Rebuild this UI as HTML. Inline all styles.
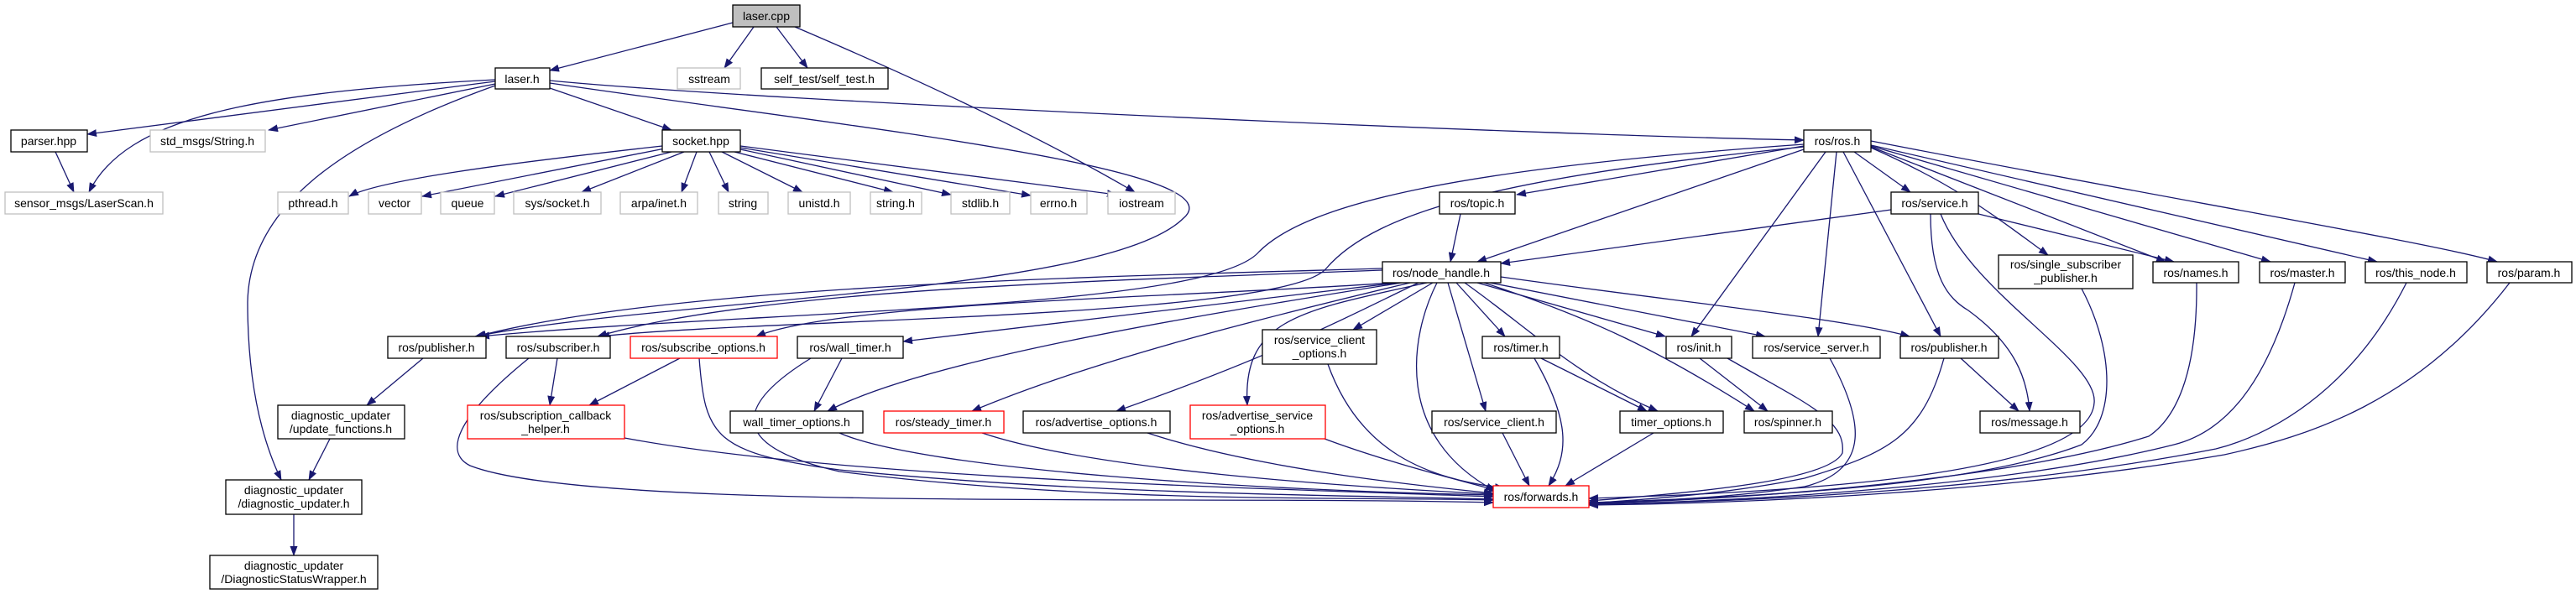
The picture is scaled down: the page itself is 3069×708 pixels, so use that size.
<!DOCTYPE html>
<html><head><meta charset="utf-8"><style>
html,body{margin:0;padding:0;background:#fff;}
svg{display:block}
text{font-family:"Liberation Sans",sans-serif;font-size:14px;fill:#000;text-anchor:middle}
.e{fill:none;stroke:#191970;stroke-width:1.3}
.b{fill:#fff;stroke:#000;stroke-width:1.3}
.g{fill:#fff;stroke:#bfbfbf;stroke-width:1.3}
.r{fill:#fff;stroke:#ff0000;stroke-width:1.3}
</style></head><body>
<svg width="3069" height="708" viewBox="0 0 3069 708" xmlns="http://www.w3.org/2000/svg">
<defs><marker id="a" markerWidth="12" markerHeight="9" refX="11" refY="4.5" orient="auto" markerUnits="userSpaceOnUse"><path d="M0,0 L12,4.5 L0,9 z" fill="#191970"/></marker></defs>
<g class="e" marker-end="url(#a)">
<path d="M873,27 L655,84"/>
<path d="M898,32 L863,81"/>
<path d="M925,32 L962,81"/>
<path d="M947,32 Q1200,140 1352,229"/>
<path d="M590,97 L104,160"/>
<path d="M590,95 C300,110 150,140 106,229"/>
<path d="M590,100 L320,155"/>
<path d="M655,105 L800,155"/>
<path d="M655,96 C900,120 1800,160 2149,167"/>
<path d="M655,99 C1000,150 1480,200 1410,260 C1320,350 800,355 566,401"/>
<path d="M590,102 C400,170 297,250 295,360 C295,450 310,520 335,572"/>
<path d="M66,181 L88,229"/>
<path d="M789,174 C600,195 450,215 416,234"/>
<path d="M792,177 L503,234"/>
<path d="M800,181 L590,234"/>
<path d="M815,181 L693,229"/>
<path d="M830,181 L812,229"/>
<path d="M845,181 L868,229"/>
<path d="M860,181 L956,229"/>
<path d="M875,181 L1064,229"/>
<path d="M882,178 L1133,232"/>
<path d="M882,176 L1228,233"/>
<path d="M882,174 L1330,232"/>
<path d="M2149,174 L1807,232"/>
<path d="M2149,178 L1760,312"/>
<path d="M2209,181 L2276,229"/>
<path d="M2229,176 C2330,220 2380,260 2440,304"/>
<path d="M2229,175 L2580,312"/>
<path d="M2229,174 L2705,312"/>
<path d="M2229,173 L2832,312"/>
<path d="M2229,168 C2600,240 2900,290 2975,312"/>
<path d="M2175,181 L2015,401"/>
<path d="M2188,181 L2166,401"/>
<path d="M2196,181 L2312,401"/>
<path d="M2149,172 C1750,200 1560,240 1500,300 C1440,370 900,370 572,401"/>
<path d="M2149,175 C1800,210 1640,250 1580,320 C1530,380 900,380 715,401"/>
<path d="M1740,255 L1728,312"/>
<path d="M2253,250 L1788,314"/>
<path d="M2357,255 L2590,312"/>
<path d="M2300,255 C2300,330 2320,355 2345,370 C2400,410 2415,450 2418,490"/>
<path d="M2312,255 C2350,350 2500,430 2495,480 C2490,560 2200,585 1893,594"/>
<path d="M1647,320 C1300,330 800,340 568,401"/>
<path d="M1647,322 C1300,335 900,345 712,401"/>
<path d="M1660,337 C1400,355 1000,360 901,401"/>
<path d="M1665,337 L1076,407"/>
<path d="M1670,337 C1400,380 1100,430 986,490"/>
<path d="M1680,337 C1500,380 1300,430 1158,490"/>
<path d="M1690,337 C1620,370 1530,420 1330,490"/>
<path d="M1700,337 C1550,370 1480,380 1486,483"/>
<path d="M1707,337 L1612,393"/>
<path d="M1712,337 C1680,400 1660,520 1781,585"/>
<path d="M1725,337 L1770,490"/>
<path d="M1735,337 L1793,401"/>
<path d="M1745,337 C1820,390 1880,450 1975,490"/>
<path d="M1760,337 L1984,401"/>
<path d="M1768,337 C1900,380 1980,420 2090,490"/>
<path d="M1775,337 L2103,401"/>
<path d="M1788,330 C2000,360 2200,380 2275,401"/>
<path d="M504,427 L437,483"/>
<path d="M393,523 L368,572"/>
<path d="M350,613 L350,662"/>
<path d="M664,427 L655,483"/>
<path d="M810,427 L702,483"/>
<path d="M630,427 C540,500 530,540 560,555 C700,610 1400,590 1779,599"/>
<path d="M833,427 C840,520 850,540 1000,560 C1300,590 1600,590 1779,595"/>
<path d="M966,427 C880,480 860,530 1000,562 C1300,600 1600,592 1779,596"/>
<path d="M1003,427 L970,490"/>
<path d="M744,522 C1000,570 1500,582 1779,592"/>
<path d="M1000,516 C1100,560 1500,585 1779,590"/>
<path d="M1170,516 C1300,560 1600,580 1779,589"/>
<path d="M1367,516 C1500,560 1700,580 1779,588"/>
<path d="M1578,523 C1650,550 1730,570 1785,585"/>
<path d="M1582,434 C1620,540 1700,570 1792,582"/>
<path d="M1790,516 L1822,579"/>
<path d="M1828,427 C1870,500 1870,540 1845,579"/>
<path d="M1836,427 L1962,490"/>
<path d="M1970,516 L1865,579"/>
<path d="M2025,427 L2106,490"/>
<path d="M2058,427 C2150,480 2200,500 2195,540 C2180,570 2050,585 1893,597"/>
<path d="M2180,427 C2220,500 2230,560 2150,580 C2050,595 1950,598 1893,599"/>
<path d="M2316,427 C2290,520 2250,540 2150,570 C2050,590 1960,595 1893,600"/>
<path d="M2336,427 L2405,490"/>
<path d="M2480,344 C2520,420 2520,500 2480,530 C2350,580 2100,592 1893,599"/>
<path d="M2617,337 C2618,450 2590,500 2560,520 C2400,570 2100,595 1893,600"/>
<path d="M2734,337 C2700,460 2650,515 2590,530 C2400,578 2100,597 1893,601"/>
<path d="M2867,337 C2800,470 2700,520 2640,535 C2400,582 2100,598 1893,601"/>
<path d="M2990,337 C2880,480 2750,520 2650,542 C2400,585 2100,600 1893,602"/>
</g>
<rect x="873" y="6" width="80" height="26" fill="#bfbfbf" stroke="#000" stroke-width="1.3"/><text x="913" y="24">laser.cpp</text>
<rect class="b" x="590" y="81" width="65" height="25"/><text x="622" y="99">laser.h</text>
<rect class="g" x="807" y="81" width="75" height="25"/><text x="845" y="99">sstream</text>
<rect class="b" x="907" y="81" width="151" height="25"/><text x="982" y="99">self_test/self_test.h</text>
<rect class="b" x="13" y="155" width="91" height="26"/><text x="58" y="173">parser.hpp</text>
<rect class="g" x="179" y="155" width="137" height="26"/><text x="247" y="173">std_msgs/String.h</text>
<rect class="b" x="789" y="155" width="93" height="26"/><text x="835" y="173">socket.hpp</text>
<rect class="b" x="2149" y="155" width="80" height="26"/><text x="2189" y="173">ros/ros.h</text>
<rect class="g" x="6" y="229" width="188" height="26"/><text x="100" y="247">sensor_msgs/LaserScan.h</text>
<rect class="g" x="331" y="229" width="84" height="26"/><text x="373" y="247">pthread.h</text>
<rect class="g" x="439" y="229" width="63" height="26"/><text x="470" y="247">vector</text>
<rect class="g" x="525" y="229" width="64" height="26"/><text x="557" y="247">queue</text>
<rect class="g" x="612" y="229" width="104" height="26"/><text x="664" y="247">sys/socket.h</text>
<rect class="g" x="739" y="229" width="92" height="26"/><text x="785" y="247">arpa/inet.h</text>
<rect class="g" x="856" y="229" width="59" height="26"/><text x="885" y="247">string</text>
<rect class="g" x="939" y="229" width="74" height="26"/><text x="976" y="247">unistd.h</text>
<rect class="g" x="1037" y="229" width="61" height="26"/><text x="1067" y="247">string.h</text>
<rect class="g" x="1133" y="229" width="70" height="26"/><text x="1168" y="247">stdlib.h</text>
<rect class="g" x="1228" y="229" width="67" height="26"/><text x="1261" y="247">errno.h</text>
<rect class="g" x="1320" y="229" width="80" height="26"/><text x="1360" y="247">iostream</text>
<rect class="b" x="1715" y="229" width="90" height="26"/><text x="1760" y="247">ros/topic.h</text>
<rect class="b" x="2253" y="229" width="104" height="26"/><text x="2305" y="247">ros/service.h</text>
<rect class="b" x="1647" y="312" width="141" height="25"/><text x="1717" y="330">ros/node_handle.h</text>
<rect class="b" x="2381" y="304" width="160" height="40"/><text x="2461" y="320">ros/single_subscriber</text><text x="2461" y="336">_publisher.h</text>
<rect class="b" x="2565" y="312" width="102" height="25"/><text x="2616" y="330">ros/names.h</text>
<rect class="b" x="2692" y="312" width="102" height="25"/><text x="2743" y="330">ros/master.h</text>
<rect class="b" x="2818" y="312" width="121" height="25"/><text x="2878" y="330">ros/this_node.h</text>
<rect class="b" x="2963" y="312" width="101" height="25"/><text x="3013" y="330">ros/param.h</text>
<rect class="b" x="462" y="401" width="117" height="26"/><text x="520" y="419">ros/publisher.h</text>
<rect class="b" x="603" y="401" width="124" height="26"/><text x="665" y="419">ros/subscriber.h</text>
<rect class="r" x="751" y="401" width="175" height="26"/><text x="838" y="419">ros/subscribe_options.h</text>
<rect class="b" x="950" y="401" width="126" height="26"/><text x="1013" y="419">ros/wall_timer.h</text>
<rect class="b" x="1504" y="393" width="136" height="41"/><text x="1572" y="410">ros/service_client</text><text x="1572" y="426">_options.h</text>
<rect class="b" x="1766" y="401" width="92" height="26"/><text x="1812" y="419">ros/timer.h</text>
<rect class="b" x="1985" y="401" width="78" height="26"/><text x="2024" y="419">ros/init.h</text>
<rect class="b" x="2088" y="401" width="152" height="26"/><text x="2164" y="419">ros/service_server.h</text>
<rect class="b" x="2264" y="401" width="117" height="26"/><text x="2322" y="419">ros/publisher.h</text>
<rect class="b" x="331" y="483" width="151" height="40"/><text x="406" y="500">diagnostic_updater</text><text x="406" y="516">/update_functions.h</text>
<rect class="r" x="557" y="483" width="187" height="40"/><text x="650" y="500">ros/subscription_callback</text><text x="650" y="516">_helper.h</text>
<rect class="b" x="870" y="490" width="158" height="26"/><text x="949" y="508">wall_timer_options.h</text>
<rect class="r" x="1053" y="490" width="143" height="26"/><text x="1124" y="508">ros/steady_timer.h</text>
<rect class="b" x="1219" y="490" width="175" height="26"/><text x="1306" y="508">ros/advertise_options.h</text>
<rect class="r" x="1418" y="483" width="161" height="40"/><text x="1498" y="500">ros/advertise_service</text><text x="1498" y="516">_options.h</text>
<rect class="b" x="1706" y="490" width="148" height="26"/><text x="1780" y="508">ros/service_client.h</text>
<rect class="b" x="1930" y="490" width="123" height="26"/><text x="1991" y="508">timer_options.h</text>
<rect class="b" x="2078" y="490" width="105" height="26"/><text x="2130" y="508">ros/spinner.h</text>
<rect class="b" x="2359" y="490" width="119" height="26"/><text x="2418" y="508">ros/message.h</text>
<rect class="b" x="269" y="572" width="162" height="41"/><text x="350" y="589">diagnostic_updater</text><text x="350" y="605">/diagnostic_updater.h</text>
<rect class="r" x="1779" y="579" width="114" height="26"/><text x="1836" y="597">ros/forwards.h</text>
<rect class="b" x="250" y="662" width="200" height="40"/><text x="350" y="679">diagnostic_updater</text><text x="350" y="695">/DiagnosticStatusWrapper.h</text>
</svg>
</body></html>
